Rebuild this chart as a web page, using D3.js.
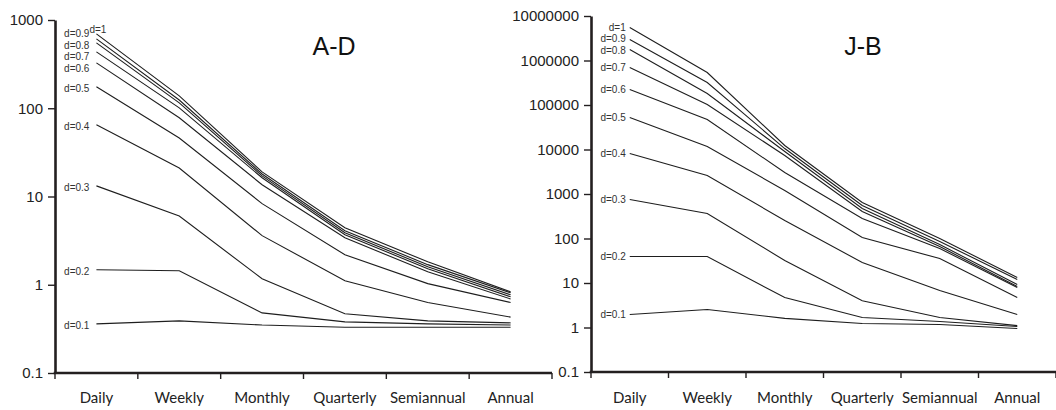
<!DOCTYPE html>
<html>
<head>
<meta charset="utf-8">
<script src="https://cdn.jsdelivr.net/npm/d3@7"></script>
<style>
body { margin: 0; background: #fff; }
svg { display: block; }
</style>
</head>
<body>
<script>
// categories and series names
var periods = ["Daily", "Weekly", "Monthly", "Quarterly", "Semiannual", "Annual"];
var seriesNames = ["d=1", "d=0.9", "d=0.8", "d=0.7", "d=0.6", "d=0.5", "d=0.4", "d=0.3", "d=0.2", "d=0.1"];

// y tick values for each panel
var adTicks = [0.1, 1, 10, 100, 1000];
var jbTicks = [0.1, 1, 10, 100, 1000, 10000, 100000, 1000000, 10000000];

// A-D values, one row per d
var adValues = [
    [696, 138, 19.0, 4.42, 1.82, 0.83],
    [611, 124, 18.0, 4.09, 1.69, 0.81],
    [550, 115, 17.1, 3.88, 1.60, 0.77],
    [435, 101, 16.3, 3.68, 1.52, 0.73],
    [327, 78, 13.6, 3.41, 1.40, 0.69],
    [175, 46, 8.3, 2.19, 1.03, 0.63],
    [65, 21, 3.6, 1.11, 0.63, 0.43],
    [13.2, 6.0, 1.17, 0.47, 0.39, 0.37],
    [1.48, 1.44, 0.48, 0.38, 0.36, 0.35],
    [0.36, 0.39, 0.35, 0.33, 0.33, 0.33]
];

// J-B values
var jbValues = [
    [5500000, 537000, 12300, 644, 100, 13.3],
    [2960000, 320000, 10500, 552, 85.6, 12],
    [1770000, 181000, 9020, 472, 73, 9.25],
    [696000, 103000, 7330, 404, 66, 8.3],
    [223000, 47200, 3040, 281, 59.6, 7.9],
    [52400, 11700, 1200, 105, 35.5, 4.7],
    [8100, 2600, 254, 28.9, 6.8, 1.96],
    [752, 365, 32, 4.0, 1.68, 1.1],
    [39.4, 39.4, 4.7, 1.68, 1.36, 1.05],
    [1.96, 2.54, 1.6, 1.23, 1.17, 0.95]
];

var w = 1056;
var h = 410;
var ink = "#231f20";

var svg = d3.select("body").append("svg")
    .attr("width", w)
    .attr("height", h);

function drawPanel(p) {
    var g = svg.append("g");

    var x = d3.scaleBand()
        .domain(periods)
        .range([p.left, p.right]);
    var y = d3.scaleLog()
        .domain(p.domain)
        .range([p.bottom, p.top]);

    function cx(name) { return x(name) + x.bandwidth() / 2; }

    // series lines
    var line = d3.line()
        .x(function(d, i) { return cx(periods[i]); })
        .y(function(d) { return y(d); });

    g.selectAll("path.series")
        .data(p.values)
        .enter()
        .append("path")
        .attr("class", "series")
        .attr("d", line)
        .attr("fill", "none")
        .attr("stroke", "#1e1e1e")
        .attr("stroke-width", 1.1);

    // series labels at the Daily end, spread so they don't overlap
    var gap = 11.5;
    var labels = p.values.map(function(v, i) {
        return { name: seriesNames[i], y0: y(v[0]), y: y(v[0]) };
    });
    var stacked = p.firstAbove ? labels.slice(1) : labels;
    for (var k = 0; k < 60; k++) {
        for (var i = 0; i < stacked.length - 1; i++) {
            var diff = stacked[i + 1].y - stacked[i].y;
            if (diff < gap) {
                stacked[i].y -= (gap - diff) / 2;
                stacked[i + 1].y += (gap - diff) / 2;
            }
        }
    }
    var x0 = cx(periods[0]);
    g.selectAll("text.lab")
        .data(labels)
        .enter()
        .append("text")
        .attr("class", "lab")
        .attr("x", function(d, i) {
            return (p.firstAbove && i === 0) ? x0 - 7 : x0 - p.labelGap;
        })
        .attr("y", function(d, i) {
            return (p.firstAbove && i === 0) ? d.y0 - 1 : d.y + 3.5 + p.labelShift;
        })
        .attr("text-anchor", function(d, i) {
            return (p.firstAbove && i === 0) ? "start" : "end";
        })
        .attr("font-family", "'Liberation Sans', Arial, sans-serif")
        .attr("font-size", "10px")
        .attr("fill", "#333")
        .text(function(d) { return d.name; });

    // y axis
    var yAxis = d3.axisLeft(y)
        .tickValues(p.ticks)
        .tickFormat(function(d) { return String(d); })
        .tickSize(7)
        .tickSizeOuter(0)
        .tickPadding(5);
    var ya = g.append("g")
        .attr("transform", "translate(" + p.left + ",0)")
        .call(yAxis);
    ya.select(".domain").attr("stroke", ink).attr("stroke-width", 2.6);
    ya.selectAll(".tick line").attr("stroke", ink).attr("stroke-width", 1.4);
    ya.selectAll(".tick text")
        .attr("fill", "#222")
        .attr("font-family", "'Liberation Sans', Arial, sans-serif")
        .attr("font-size", "15px");

    // x axis: baseline, boundary ticks, centred labels
    g.append("line")
        .attr("x1", p.left - 1.3)
        .attr("x2", p.axisEnd)
        .attr("y1", p.bottom)
        .attr("y2", p.bottom)
        .attr("stroke", ink)
        .attr("stroke-width", 2.6);
    g.selectAll("line.xtick")
        .data(d3.range(periods.length + 1))
        .enter()
        .append("line")
        .attr("class", "xtick")
        .attr("x1", function(i) { return p.left + i * x.step(); })
        .attr("x2", function(i) { return p.left + i * x.step(); })
        .attr("y1", p.bottom)
        .attr("y2", p.bottom + 6)
        .attr("stroke", ink)
        .attr("stroke-width", 1.4);
    g.selectAll("text.xlab")
        .data(periods)
        .enter()
        .append("text")
        .attr("class", "xlab")
        .attr("x", function(d) { return cx(d); })
        .attr("y", 403)
        .attr("text-anchor", "middle")
        .attr("font-family", "Lato, 'Open Sans', sans-serif")
        .attr("font-size", "15px")
        .attr("fill", "#222")
        .text(function(d) { return d; });

    // panel title
    g.append("text")
        .attr("x", p.titleX)
        .attr("y", 55)
        .attr("text-anchor", "middle")
        .attr("font-family", "'Liberation Sans', Arial, sans-serif")
        .attr("font-size", "25px")
        .attr("fill", "#111")
        .text(p.title);
}

drawPanel({
    title: "A-D", titleX: 334,
    values: adValues, ticks: adTicks, domain: [0.1, 1000],
    left: 55, right: 552, axisEnd: 552, top: 20, bottom: 373,
    labelGap: 7, labelShift: 2, firstAbove: true
});

drawPanel({
    title: "J-B", titleX: 863,
    values: jbValues, ticks: jbTicks, domain: [0.1, 10000000],
    left: 591, right: 1056, axisEnd: 1056, top: 16, bottom: 372,
    labelGap: 4, labelShift: 0, firstAbove: false
});
</script>
</body>
</html>
